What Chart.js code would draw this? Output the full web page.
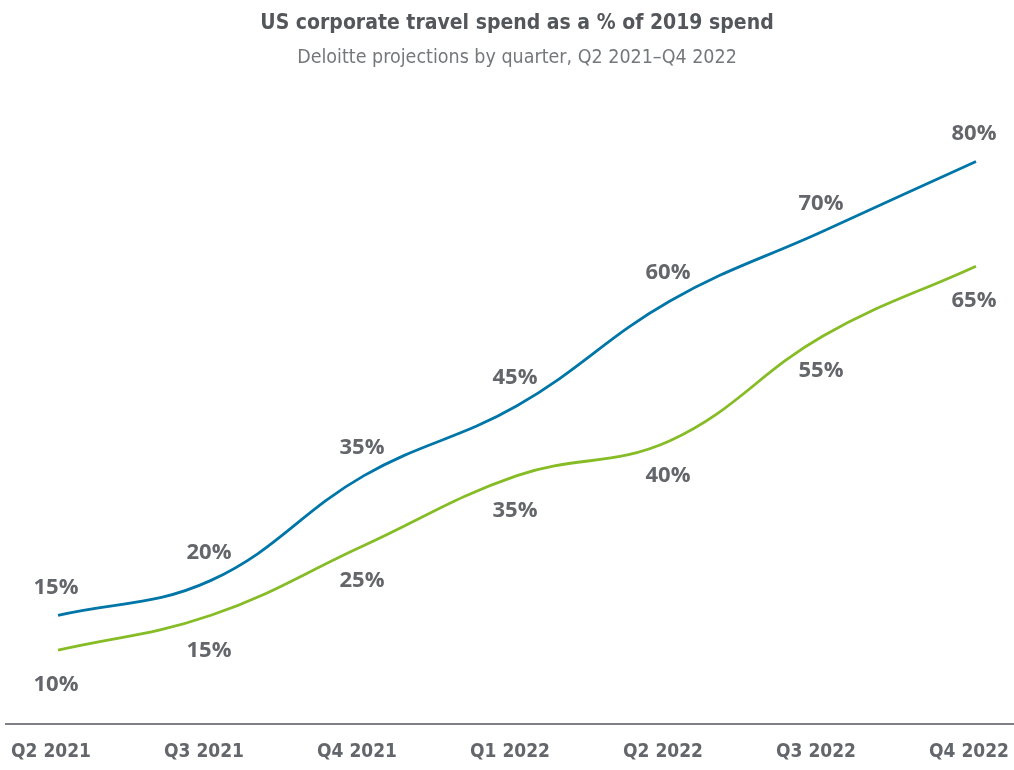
<!DOCTYPE html>
<html>
<head>
<meta charset="utf-8">
<script src="https://cdn.jsdelivr.net/npm/chart.js@4.4.1/dist/chart.umd.min.js"></script>
<style>
  html, body { margin: 0; padding: 0; background: #fff; }
  #wrap { width: 1014px; height: 770px; }
</style>
</head>
<body>
<div id="wrap"><canvas id="travelChart"></canvas></div>
<script>
// Quarters shown on the x axis
const quarters = ["Q2 2021", "Q3 2021", "Q4 2021", "Q1 2022", "Q2 2022", "Q3 2022", "Q4 2022"];
// Two Deloitte projection series (% of 2019 spend)
const upperSeries = [15, 20, 35, 45, 60, 70, 80];
const lowerSeries = [10, 15, 25, 35, 40, 55, 65];

const textGray = "#63666a";
const narrowFont = "'Liberation Sans Narrow', 'DejaVu Sans Condensed', sans-serif";
const labelFont = "bold 22px 'Open Sans', sans-serif";

// Draw the % labels above the blue line and below the green one
const valueLabels = {
    id: "valueLabels",
    afterDatasetsDraw(chart) {
        const ctx = chart.ctx;
        ctx.save();
        ctx.font = labelFont;
        ctx.fillStyle = textGray;
        ctx.textAlign = "center";
        ctx.textBaseline = "middle";
        chart.data.datasets.forEach((ds, i) => {
            const meta = chart.getDatasetMeta(i);
            const shift = i === 0 ? -28 : 35;
            meta.data.forEach((pt, j) => {
                ctx.fillText(ds.data[j] + "%", pt.x - 2, pt.y + shift);
            });
        });
        ctx.restore();
    }
};

// Baseline rule across the full width
const baseRule = {
    id: "baseRule",
    afterDraw(chart) {
        const ctx = chart.ctx;
        const y = chart.chartArea.bottom + 4;
        ctx.save();
        ctx.strokeStyle = "#53565a";
        ctx.lineWidth = 1.5;
        ctx.beginPath();
        ctx.moveTo(5, y);
        ctx.lineTo(chart.width, y);
        ctx.stroke();
        ctx.restore();
    }
};

function drawChart() {
    const ctx = document.getElementById("travelChart").getContext("2d");
    new Chart(ctx, {
        type: "line",
        data: {
            labels: quarters,
            datasets: [
                {
                    data: upperSeries,
                    borderColor: "#0076a8",
                    borderWidth: 2.8,
                    pointRadius: 0,
                    tension: 0.4,
                    fill: false
                },
                {
                    data: lowerSeries,
                    borderColor: "#86bc25",
                    borderWidth: 2.8,
                    pointRadius: 0,
                    tension: 0.4,
                    fill: false
                }
            ]
        },
        options: {
            responsive: true,
            maintainAspectRatio: false,
            animation: false,
            layout: { padding: { left: 58, right: 38, top: 0, bottom: 0 } },
            plugins: {
                legend: { display: false },
                tooltip: { enabled: false },
                title: {
                    display: true,
                    text: "US corporate travel spend as a % of 2019 spend",
                    color: "#53565a",
                    font: { family: narrowFont, size: 21, weight: "bold" },
                    padding: { top: 11, bottom: 10 }
                },
                subtitle: {
                    display: true,
                    text: "Deloitte projections by quarter, Q2 2021\u2013Q4 2022",
                    color: "#75787b",
                    font: { family: narrowFont, size: 19.5, weight: "normal" },
                    padding: { top: 0, bottom: 22 }
                }
            },
            scales: {
                x: {
                    offset: false,
                    grid: { display: false, drawTicks: false },
                    border: { display: false },
                    ticks: {
                        color: textGray,
                        font: { family: narrowFont, size: 19, weight: "bold" },
                        padding: 21,
                        labelOffset: -7,
                        maxRotation: 0,
                        autoSkip: false
                    },
                    afterFit(scale) {
                        scale.paddingLeft = 0;
                        scale.paddingRight = 0;
                        scale.height = 50;
                    }
                },
                y: {
                    display: false,
                    min: 0,
                    max: 90
                }
            }
        },
        plugins: [valueLabels, baseRule]
    });
}

document.fonts.load(labelFont).then(drawChart, drawChart);
</script>
</body>
</html>
